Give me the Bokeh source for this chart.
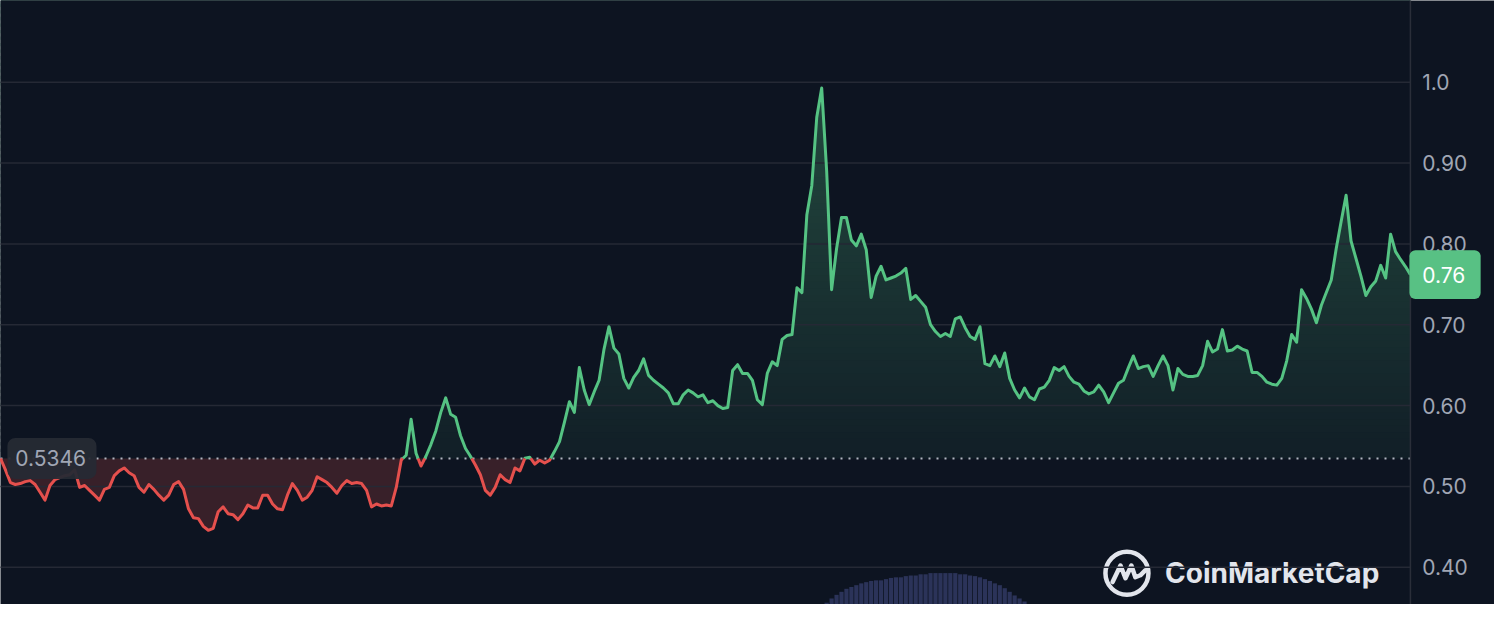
import numpy as np
from bokeh.plotting import figure
from bokeh.models import Range1d, Span
from bokeh.embed import file_html
from bokeh.resources import INLINE
from bokeh.core.properties import value

# ---------------- data ----------------
base_price = 0.5346
last_label = "0.76"
price = [
    0.5346, 0.5205, 0.5048, 0.5024, 0.5036, 0.5060, 0.5072, 0.5024, 0.4928, 0.4831,
    0.5012, 0.5084, 0.5108, 0.5133, 0.5145, 0.5205, 0.4988, 0.5012, 0.4952, 0.4892,
    0.4831, 0.4964, 0.4988, 0.5133, 0.5193, 0.5229, 0.5169, 0.5133, 0.4988, 0.4928,
    0.5024, 0.4964, 0.4892, 0.4831, 0.4892, 0.5024, 0.5060, 0.4964, 0.4723, 0.4614,
    0.4602, 0.4506, 0.4458, 0.4482, 0.4687, 0.4747, 0.4663, 0.4651, 0.4590, 0.4663,
    0.4771, 0.4735, 0.4735, 0.4892, 0.4892, 0.4783, 0.4723, 0.4711, 0.4892, 0.5036,
    0.4952, 0.4831, 0.4867, 0.4952, 0.5120, 0.5084, 0.5048, 0.4988, 0.4916, 0.5012,
    0.5072, 0.5036, 0.5048, 0.5036, 0.4952, 0.4747, 0.4783, 0.4759, 0.4771, 0.4759,
    0.4988, 0.5325, 0.5386, 0.5831, 0.5410, 0.5253, 0.5373, 0.5518, 0.5687, 0.5916,
    0.6096, 0.5892, 0.5855, 0.5627, 0.5470, 0.5373, 0.5265, 0.5145, 0.4952, 0.4892,
    0.4988, 0.5145, 0.5084, 0.5048, 0.5229, 0.5193, 0.5349, 0.5361, 0.5277, 0.5325,
    0.5289, 0.5325, 0.5434, 0.5554, 0.5795, 0.6048, 0.5916, 0.6470, 0.6193, 0.6012,
    0.6169, 0.6313, 0.6699, 0.6976, 0.6711, 0.6639, 0.6337, 0.6217, 0.6349, 0.6434,
    0.6578, 0.6373, 0.6313, 0.6265, 0.6217, 0.6157, 0.6024, 0.6024, 0.6133, 0.6193,
    0.6157, 0.6108, 0.6133, 0.6036, 0.6060, 0.6000, 0.5964, 0.5976, 0.6434, 0.6506,
    0.6398, 0.6398, 0.6313, 0.6072, 0.6012, 0.6398, 0.6542, 0.6494, 0.6819, 0.6867,
    0.6879, 0.7458, 0.7398, 0.8361, 0.8723, 0.9566, 0.9928, 0.8904, 0.7434, 0.7940,
    0.8325, 0.8325, 0.8048, 0.7976, 0.8120, 0.7928, 0.7337, 0.7602, 0.7723, 0.7554,
    0.7578, 0.7602, 0.7639, 0.7699, 0.7313, 0.7361, 0.7289, 0.7217, 0.7000, 0.6916,
    0.6855, 0.6892, 0.6855, 0.7072, 0.7096, 0.6964, 0.6855, 0.6819, 0.6976, 0.6518,
    0.6494, 0.6614, 0.6482, 0.6651, 0.6337, 0.6193, 0.6096, 0.6217, 0.6108, 0.6072,
    0.6205, 0.6229, 0.6313, 0.6470, 0.6434, 0.6482, 0.6361, 0.6289, 0.6265, 0.6181,
    0.6145, 0.6169, 0.6253, 0.6169, 0.6036, 0.6157, 0.6277, 0.6313, 0.6470, 0.6614,
    0.6458, 0.6482, 0.6494, 0.6361, 0.6494, 0.6614, 0.6494, 0.6193, 0.6458, 0.6386,
    0.6361, 0.6361, 0.6373, 0.6494, 0.6795, 0.6663, 0.6699, 0.6940, 0.6675, 0.6687,
    0.6735, 0.6699, 0.6675, 0.6410, 0.6410, 0.6361, 0.6289, 0.6265, 0.6253, 0.6337,
    0.6554, 0.6879, 0.6783, 0.7434, 0.7325, 0.7193, 0.7024, 0.7241, 0.7398, 0.7554,
    0.7940, 0.8277, 0.8602, 0.8036, 0.7819, 0.7602, 0.7361, 0.7470, 0.7542, 0.7735,
    0.7578, 0.8120, 0.7904, 0.7807, 0.7720, 0.7620,
]
volume_start = 167          # index of first visible volume bar
volume = [
    0.3, 1.0, 1.6, 2.1, 2.6, 2.9, 3.2, 3.5, 3.7, 3.9, 4.0, 4.0, 4.2, 4.4, 4.5,
    4.5, 4.7, 4.8, 4.8, 5.0, 5.0, 5.2, 5.2, 5.2, 5.2, 5.2, 5.2, 5.0, 5.0, 4.8,
    4.7, 4.5, 4.2, 3.9, 3.5, 3.2, 2.7, 2.1, 1.5, 1.0, 0.5,
]
tick_values = [0.40, 0.50, 0.60, 0.70, 0.80, 0.90, 1.0]
tick_labels = ["0.40", "0.50", "0.60", "0.70", "0.80", "0.90", "1.0"]
brand = "CoinMarketCap"

# ---------------- styling ----------------
BG = "#0d1421"
GRID = "#252935"
GREEN = "#55c383"
RED = "#e5504d"
LABEL = "#a0a6b4"
WM = "#e2e5ec"
Y_MIN, Y_MAX = 0.354, 1.101
REF_W, REF_H, PLOT_W = 1510, 620, 1425      # layout in reference pixels
PX_PER_UNIT = 830.0                          # vertical pixels per 1.0 price

t = np.arange(len(price), dtype=float)
pr = np.array(price, dtype=float)

# insert crossing points with the baseline
xs, ys = [t[0]], [pr[0]]
for i in range(1, len(pr)):
    a, b = pr[i - 1] - base_price, pr[i] - base_price
    if a * b < 0:
        f = a / (a - b)
        xs.append(t[i - 1] + f * (t[i] - t[i - 1]))
        ys.append(base_price)
    xs.append(t[i])
    ys.append(pr[i])
xs = np.array(xs)
ys = np.array(ys)

x_end = t[-1] * REF_W / PLOT_W
p = figure(width=1494, height=604, output_backend="svg", toolbar_location=None,
           x_range=Range1d(t[0], x_end), y_range=Range1d(Y_MIN, Y_MAX),
           x_axis_location=None, y_axis_location=None,
           min_border_left=0, min_border_top=0, min_border_bottom=0, min_border_right=0)
p.background_fill_color = BG
p.border_fill_color = BG
p.outline_line_color = None
p.xgrid.visible = False
p.ygrid.visible = False
p.extra_y_ranges = {"vol": Range1d(0, 100), "py": Range1d(REF_H, 0)}
p.extra_x_ranges = {"px": Range1d(0, REF_W)}

# volume bars
vt = np.arange(volume_start, volume_start + len(volume))
p.vbar(x=vt, top=volume, bottom=0, width=0.85, y_range_name="vol",
       fill_color="#2b3359", line_color=None)

# green gradient bands above baseline
def blend(alpha, c1=(85, 195, 131), c0=(13, 20, 33)):
    return "#%02x%02x%02x" % tuple(int(round(c0[k] + alpha * (c1[k] - c0[k]))) for k in range(3))

n_b = 70
edges = np.linspace(base_price, Y_MAX, n_b + 1)
step = edges[1] - edges[0]
mids = (edges[:-1] + edges[1:]) / 2
fr = (mids - base_price) / (Y_MAX - base_price)
cols = [blend(0.06 + 0.30 * f) for f in fr]
p.quad(left=t[0], right=t[-1], bottom=edges[:-1], top=edges[1:] + step * 0.5,
       fill_color=cols, line_color=None)
# mask above the line
p.varea(x=xs, y1=np.maximum(ys, base_price), y2=Y_MAX + 0.2, fill_color=BG)
# red fill
p.varea(x=xs, y1=np.minimum(ys, base_price), y2=base_price, fill_color=RED, fill_alpha=0.2)

# grid lines (end at the price-axis line)
gr = p.segment(x0=t[0], x1=t[-1], y0=tick_values, y1=tick_values,
               line_color=GRID, line_width=1.5)
gr.level = "guide"
# price-axis line
p.add_layout(Span(location=t[-1], dimension="height", line_color="#2a2e39", line_width=1.5))
# tick labels
p.text(x=1437, y=tick_values, text=tick_labels, x_range_name="px",
       text_font=value("Inter"), text_font_size="21px", text_color=LABEL,
       text_baseline="middle", text_align="left")

# baseline (dotted)
bl = p.segment(x0=t[0], x1=t[-1], y0=base_price, y1=base_price, line_color="#c3c8d2",
               line_dash="2 6", line_width=2, line_alpha=0.9)
bl.level = "guide"

# price lines
g = np.where(ys >= base_price, ys, np.nan)
r = np.where(ys <= base_price, ys, np.nan)
lg = p.line(xs, g, line_color=GREEN, line_width=3, line_join="round")
lr = p.line(xs, r, line_color=RED, line_width=3, line_join="round")
lg.level = "annotation"
lr.level = "annotation"

# watermark
p.text(x=[1177], y=[588], text=[brand], x_range_name="px", y_range_name="py",
       text_font=value("Inter"), text_font_size="28px", text_font_style="bold",
       text_baseline="middle", text_color=WM)
p.scatter(x=[1138.5], y=[588], x_range_name="px", y_range_name="py", marker="circle",
          size=43, fill_color=None, line_color=WM, line_width=4.5)
p.line(x=[1124, 1132, 1137, 1143, 1147, 1152, 1157], y=[597, 580, 593, 580, 592, 590, 585],
       x_range_name="px", y_range_name="py", line_color=WM, line_width=4.5,
       line_join="round", line_cap="round")

# base price label (left)
hb = 21 / PX_PER_UNIT
b1 = p.quad(left=7, right=97, bottom=base_price - hb, top=base_price + hb, x_range_name="px",
            fill_color="#262a34", fill_alpha=0.95, line_color=None, border_radius=8)
b2 = p.text(x=15, y=base_price, text=["%.4f" % base_price], x_range_name="px",
            text_font=value("Inter"), text_font_size="21px", text_color=LABEL,
            text_baseline="middle", text_align="left")
# last price tag (right)
ht = 25 / PX_PER_UNIT
b3 = p.quad(left=1424, right=1496, bottom=pr[-1] - ht, top=pr[-1] + ht, x_range_name="px",
            fill_color="#58c184", line_color=None, border_radius=6)
b4 = p.text(x=1437, y=pr[-1], text=[last_label], x_range_name="px",
            text_font=value("Inter"), text_font_size="21px", text_color="#ffffff",
            text_baseline="middle", text_align="left")
for rr in (b1, b2, b3, b4):
    rr.level = "overlay"

open("out.html", "w").write(file_html(p, INLINE))
